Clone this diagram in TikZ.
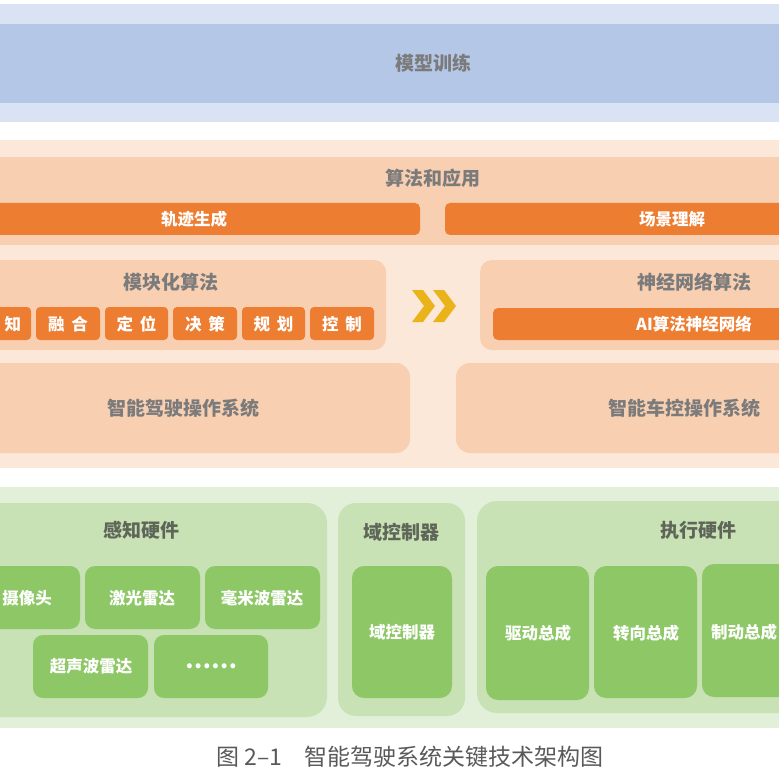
\documentclass[tikz,border=0pt]{standalone}
\usepackage{fontspec}
\newfontfamily\cjk{Noto Sans CJK SC}
\usetikzlibrary{positioning}
\definecolor{bluelt}{HTML}{DAE3F3}
\definecolor{bluemd}{HTML}{B4C7E7}
\definecolor{peachlt}{HTML}{FCE8D9}
\definecolor{peachmd}{HTML}{F8CFB1}
\definecolor{orangebar}{HTML}{ED7D31}
\definecolor{greenlt}{HTML}{E2F0D9}
\definecolor{greenmd}{HTML}{C8E2B5}
\definecolor{greendk}{HTML}{8DC766}
\definecolor{titlegray}{HTML}{7B7B7B}
\definecolor{greentitle}{HTML}{5F6659}
\definecolor{chev}{HTML}{EAB319}
\definecolor{capgray}{HTML}{595959}
\tikzset{
  panel/.style={anchor=north west, inner sep=0pt, outer sep=0pt, draw=none},
  title/.style={font=\cjk\bfseries\fontsize{19}{19}\selectfont, text=titlegray, inner sep=0pt},
  gtitle/.style={font=\cjk\bfseries\fontsize{19}{19}\selectfont, text=greentitle, inner sep=0pt},
  wtext/.style={font=\cjk\bfseries\fontsize{16.5}{16.5}\selectfont, text=white, inner sep=0pt},
}
\begin{document}
\begin{tikzpicture}[x=1pt,y=-1pt]
\useasboundingbox (0,0) rectangle (779,778);
\clip (0,0) rectangle (779,778);
% ---------- blue band
\node[panel, fill=bluelt, minimum width=779pt, minimum height=118pt] (blueout) at (0,4) {};
\node[panel, fill=bluemd, minimum width=779pt, minimum height=79pt] (bluein) at (0,24) {};
\node[title] (train) at (433,63) {模型训练};
% ---------- peach section
\node[panel, fill=peachlt, minimum width=779pt, minimum height=328pt] (peachout) at (0,140) {};
\node[panel, fill=peachmd, minimum width=800pt, minimum height=88pt] (algapp) at (0,157) {};
\node[title] (algapptxt) at (433,178) {算法和应用};
\node[panel, fill=orangebar, rounded corners=5pt, minimum width=440pt, minimum height=32pt] (traj) at (-20,203) {};
\node[wtext] (trajtxt) at (194,219) {轨迹生成};
\node[panel, fill=orangebar, rounded corners=5pt, minimum width=355pt, minimum height=32pt] (scene) at (445,203) {};
\node[wtext] (scenetxt) at (672,219) {场景理解};
% modular algorithm
\node[panel, fill=peachmd, rounded corners=12pt, minimum width=406pt, minimum height=90pt] (modular) at (-20,260) {};
\node[title] (modulartxt) at (171,282) {模块化算法};
\node[panel, fill=orangebar, rounded corners=4pt, minimum width=61pt, minimum height=33pt] (m1) at (-30,307) {};
\node[wtext] (m1t) at (13,324) {知};
\node[panel, fill=orangebar, rounded corners=4pt, minimum width=64pt, minimum height=33pt] (m2) at (36,307) {};
\node[wtext] (m2t) at (68,324) {融\hspace{7pt}合};
\node[panel, fill=orangebar, rounded corners=4pt, minimum width=63pt, minimum height=33pt] (m3) at (105,307) {};
\node[wtext] (m3t) at (136.5,324) {定\hspace{7pt}位};
\node[panel, fill=orangebar, rounded corners=4pt, minimum width=64pt, minimum height=33pt] (m4) at (173,307) {};
\node[wtext] (m4t) at (205,324) {决\hspace{7pt}策};
\node[panel, fill=orangebar, rounded corners=4pt, minimum width=63pt, minimum height=33pt] (m5) at (242,307) {};
\node[wtext] (m5t) at (273.5,324) {规\hspace{7pt}划};
\node[panel, fill=orangebar, rounded corners=4pt, minimum width=64pt, minimum height=33pt] (m6) at (310,307) {};
\node[wtext] (m6t) at (342,324) {控\hspace{7pt}制};
% chevrons
\fill[chev] (412,290) -- (423,290) -- (435,306) -- (423,322) -- (412,322) -- (424,306) -- cycle;
\fill[chev] (433,290) -- (444,290) -- (456,306) -- (444,322) -- (433,322) -- (445,306) -- cycle;
% neural algorithm
\node[panel, fill=peachmd, rounded corners=12pt, minimum width=330pt, minimum height=90pt] (neural) at (480,260) {};
\node[title] (neuraltxt) at (694,282) {神经网络算法};
\node[panel, fill=orangebar, rounded corners=5pt, minimum width=310pt, minimum height=32pt] (ainet) at (493,308) {};
\node[wtext] (ainettxt) at (694,324) {AI算法神经网络};
% OS boxes
\node[panel, fill=peachmd, rounded corners=14pt, minimum width=430pt, minimum height=90pt] (ados) at (-20,363) {};
\node[title] (adostxt) at (183,408) {智能驾驶操作系统};
\node[panel, fill=peachmd, rounded corners=14pt, minimum width=354pt, minimum height=90pt] (vcos) at (456,363) {};
\node[title] (vcostxt) at (684,408) {智能车控操作系统};
% ---------- green section
\node[panel, fill=greenlt, minimum width=779pt, minimum height=241pt] (greenout) at (0,487) {};
\node[panel, fill=greenmd, rounded corners=20pt, minimum width=347pt, minimum height=214pt] (sense) at (-20,503) {};
\node[gtitle] (sensetxt) at (141,530) {感知硬件};
\node[panel, fill=greendk, rounded corners=10pt, minimum width=120pt, minimum height=63pt] (s1) at (-40,566) {};
\node[wtext] (s1t) at (27,598) {摄像头};
\node[panel, fill=greendk, rounded corners=10pt, minimum width=115pt, minimum height=63pt] (s2) at (85,566) {};
\node[wtext] (s2t) at (142,598) {激光雷达};
\node[panel, fill=greendk, rounded corners=10pt, minimum width=115pt, minimum height=63pt] (s3) at (205,566) {};
\node[wtext] (s3t) at (262,598) {毫米波雷达};
\node[panel, fill=greendk, rounded corners=10pt, minimum width=115pt, minimum height=63pt] (s4) at (33,635) {};
\node[wtext] (s4t) at (91,666) {超声波雷达};
\node[panel, fill=greendk, rounded corners=10pt, minimum width=114pt, minimum height=63pt] (s5) at (154,635) {};
\node[inner sep=0pt, text=white, font=\cjk\bfseries\fontsize{23}{23}\selectfont] (s5t) at (211,666) {……};
% domain controller
\node[panel, fill=greenmd, rounded corners=18pt, minimum width=127pt, minimum height=213pt] (dom) at (338,503) {};
\node[gtitle] (domtxt) at (401,532) {域控制器};
\node[panel, fill=greendk, rounded corners=12pt, minimum width=100pt, minimum height=132pt] (domin) at (352,566) {};
\node[wtext] (domintxt) at (402,632) {域控制器};
% actuators
\node[panel, fill=greenmd, rounded corners=20pt, minimum width=330pt, minimum height=212pt] (act) at (477,501) {};
\node[gtitle] (acttxt) at (698,530) {执行硬件};
\node[panel, fill=greendk, rounded corners=12pt, minimum width=103pt, minimum height=134pt] (a1) at (486,566) {};
\node[wtext] (a1t) at (538,633) {驱动总成};
\node[panel, fill=greendk, rounded corners=12pt, minimum width=103pt, minimum height=132pt] (a2) at (594,566) {};
\node[wtext] (a2t) at (646,633) {转向总成};
\node[panel, fill=greendk, rounded corners=12pt, minimum width=108pt, minimum height=133pt] (a3) at (702,564) {};
\node[wtext] (a3t) at (744,632) {制动总成};
% ---------- caption
\node[inner sep=0pt, font=\cjk\fontsize{23}{23}\selectfont, text=capgray] (caption) at (410,757) {图 2–1\hspace{22pt}智能驾驶系统关键技术架构图};
\end{tikzpicture}
\end{document}
